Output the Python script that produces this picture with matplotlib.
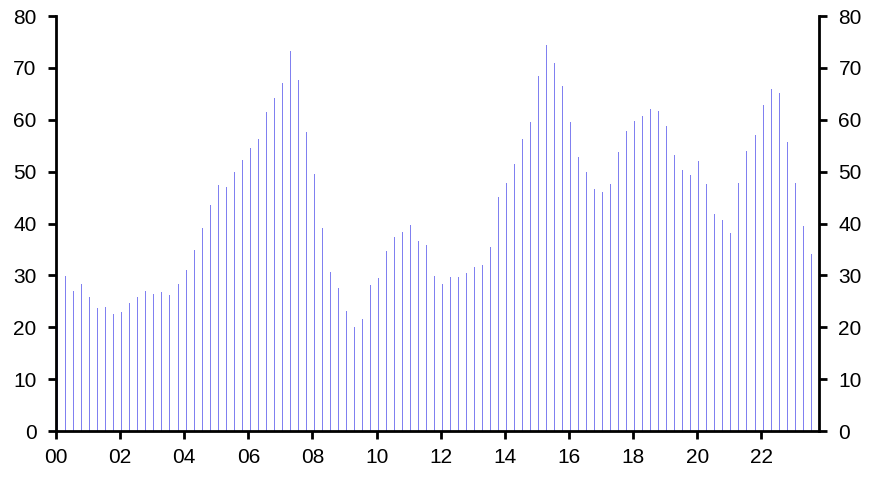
import matplotlib
matplotlib.use("Agg")
import matplotlib.pyplot as plt
import numpy as np

plt.rcParams['font.family'] = ['Liberation Sans', 'DejaVu Sans']

# Quarterly values, 2000 Q1 .. 2023 Q3
values = [
    27.1, 29.8, 26.9, 28.3, 25.8, 23.7, 24.0, 22.5, 22.9, 24.6,
    25.8, 26.9, 26.5, 26.7, 26.3, 28.3, 31.0, 34.8, 39.2, 43.6,
    47.4, 47.0, 49.9, 52.3, 54.5, 56.2, 61.4, 64.2, 67.0, 73.3,
    67.6, 57.6, 49.5, 39.1, 30.6, 27.6, 23.1, 20.1, 21.6, 28.1,
    29.5, 34.7, 37.4, 38.3, 39.7, 36.6, 35.8, 29.9, 28.3, 29.7,
    29.7, 30.4, 31.6, 32.0, 35.4, 45.1, 47.8, 51.4, 56.2, 59.5,
    68.5, 74.5, 71.0, 66.6, 59.5, 52.9, 49.9, 46.6, 46.0, 47.6,
    53.7, 57.8, 59.7, 60.8, 62.0, 61.6, 58.7, 53.3, 50.3, 49.3,
    52.0, 47.6, 41.8, 40.6, 38.1, 47.8, 53.9, 57.0, 62.9, 66.0,
    65.1, 55.8, 47.8, 39.5, 34.1,
]
tick_years = list(range(0, 24, 2))
tick_labels = [f"{y:02d}" for y in tick_years]
y_ticks = list(range(0, 81, 10))

x = np.arange(len(values)) * 0.25 + 0.04

fig = plt.figure(figsize=(8.74, 4.82), dpi=100)
ax = fig.add_axes([0.0641, 0.1058, 0.937 - 0.0641, 0.9668 - 0.1058])

ax.vlines(x, 0, values, colors='#8080F0', linewidth=0.72, antialiased=False)

ax.set_xlim(0, 23.8)
ax.set_ylim(0, 80)
ax.set_xticks(tick_years)
ax.set_xticklabels(tick_labels)
ax.set_yticks(y_ticks)

for side in ['left', 'right', 'bottom']:
    ax.spines[side].set_linewidth(2)
    ax.spines[side].set_color('black')
    ax.spines[side].set_zorder(3)
ax.spines['top'].set_visible(False)

ax.tick_params(axis='y', which='both', left=True, right=True, labelleft=True, labelright=True,
               direction='out', length=6, width=2, labelsize=15, pad=8)
ax.tick_params(axis='x', direction='out', length=6, width=2, labelsize=15, pad=6)

fig.savefig('out.png', dpi=100)
